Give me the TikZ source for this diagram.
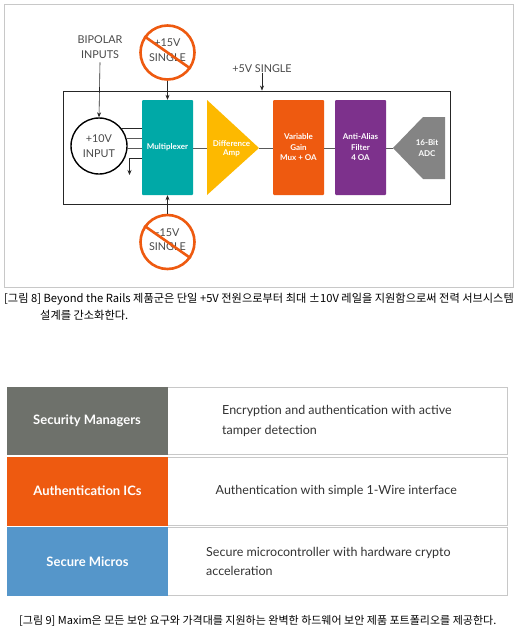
\documentclass[tikz,border=0pt]{standalone}
\usepackage{fontspec}
\usetikzlibrary{arrows.meta}
\setmainfont{Lato}
\newfontfamily\cjk{Noto Sans CJK KR}
\definecolor{frameg}{HTML}{C8C8C8}
\definecolor{teal1}{HTML}{00A9A7}
\definecolor{amber}{HTML}{FDB900}
\definecolor{orange1}{HTML}{EE5A10}
\definecolor{purple1}{HTML}{7D318C}
\definecolor{gray1}{HTML}{848484}
\definecolor{slate}{HTML}{6E716B}
\definecolor{blue1}{HTML}{5596CA}
\definecolor{txt}{HTML}{4A4A4A}
\tikzset{
 x=1pt,y=-1pt,
 blockbox/.style={draw=none,rounded corners=1pt,minimum width=51pt,minimum height=95pt,inner sep=0pt,align=center,text=white,font=\bfseries\fontsize{8}{10.5}\selectfont},
 lbl/.style={text=txt,align=center,inner sep=0pt,font=\fontsize{10.8}{14.5}\selectfont},
 wire/.style={draw=gray!70!black,line width=.5pt},
 darkwire/.style={draw=black!85,line width=.8pt},
 arr/.style={draw=black!85,line width=.6pt,-{Stealth[length=5pt,width=4pt]}},
 nocirc/.style={circle,draw=orange1,line width=2.6pt,minimum size=54pt,inner sep=0pt},
 cell/.style={draw=frameg,line width=.8pt,minimum height=67pt,inner sep=0pt},
 tlabel/.style={text=white,font=\bfseries\fontsize{13}{16}\selectfont,inner sep=0pt},
 ttext/.style={text=black!80,font=\fontsize{12.5}{19.5}\selectfont,align=left,inner sep=0pt,anchor=west},
 captxt/.style={font=\cjk\fontsize{11.2}{15}\selectfont,text=black,inner sep=0pt,anchor=west,align=left},
}
\begin{document}
\begin{tikzpicture}
\useasboundingbox (0,0) rectangle (520,637);
\fill[white] (0,0) rectangle (520,637);
\node[draw=frameg,line width=1pt,minimum width=509pt,minimum height=283pt,inner sep=0pt] (frame) at (259,145.5) {};
\node[draw=black!85,line width=.9pt,minimum width=387pt,minimum height=113pt,inner sep=0pt] (chip) at (256.5,147.5) {};

\node[blockbox,fill=teal1] (mux) at (167.5,147.5) {Multiplexer};
\node[blockbox,fill=orange1] (vga) at (298.5,147.5) {Variable\\Gain\\Mux + OA};
\node[blockbox,fill=purple1] (aaf) at (360.5,147.5) {Anti-Alias\\Filter\\4 OA};
\fill[amber] (207,100) -- (259,148) -- (207,195) -- cycle;
\node[text=white,font=\bfseries\fontsize{8}{9}\selectfont,align=center,inner sep=0pt] (amp) at (231.5,148.5) {Difference\\Amp};
\coordinate (amptip) at (259,148);
\coordinate (ampin) at (207,148);
\fill[gray1] (393,148) -- (423,117) -- (445,117) -- (445,179) -- (423,179) -- cycle;
\node[text=white,font=\bfseries\fontsize{8}{10.5}\selectfont,align=center,inner sep=0pt] (adc) at (427,148) {16-Bit\\ADC};
\coordinate (adctip) at (393,148);

\draw[wire] (mux.east |- ampin) -- (ampin);
\draw[wire] (amptip) -- (vga.west |- amptip);
\draw[wire] (vga.east |- amptip) -- (aaf.west |- amptip);
\draw[wire] (aaf.east |- amptip) -- (adctip);

\node[circle,draw=black,line width=1.4pt,minimum size=56pt,inner sep=0pt,lbl] (inp) at (99,146) {+10V\\INPUT};
\coordinate (m1) at (142,128.7);
\coordinate (m2) at (142,138.3);
\coordinate (m3) at (142,148.5);
\coordinate (m4) at (142,158.7);
\coordinate (m5) at (129.5,175);
\draw[darkwire] (121,128.7) -- (m1);
\draw[wire] (126,138.3) -- (m2);
\draw[wire] (127,148.5) -- (m3);
\draw[arr] (m4) -- (129.5,158.7) -- (m5);

\node[lbl] (bip) at (100,47) {BIPOLAR\\INPUTS};
\draw[arr] (bip.south) ++(0,4) -- (inp.north);

\node[nocirc] (np) at (167.5,52.5) {};
\node[lbl] at (167.5,50) {+15V\\SINGLE};
\draw[orange1,line width=2.6pt] (np.145) -- (np.-35);
\draw[arr] (np.south) -- (mux.north);

\node[nocirc] (nm) at (167.5,242) {};
\node[lbl] at (167.5,239.5) {-15V\\SINGLE};
\draw[orange1,line width=2.6pt] (nm.145) -- (nm.-35);
\draw[arr] (nm.north) -- (mux.south);

\node[lbl] (five) at (262,68.5) {+5V SINGLE};
\draw[arr] (five.south) -- (five.south |- chip.north);

\node[captxt] (c1) at (4,299) {[그림 8] Beyond the Rails 제품군은 단일 +5V 전원으로부터 최대 ±10V 레일을 지원함으로써 전력 서브시스템};
\node[captxt] (c2) at (40,315) {설계를 간소화한다.};

\node[cell,fill=white,minimum width=340pt] (r1) at (337,420.5) {};
\node[cell,fill=white,minimum width=340pt,minimum height=68pt] (r2) at (337,491) {};
\node[cell,fill=white,minimum width=340pt,minimum height=68pt] (r3) at (337,561.5) {};
\node[fill=slate,minimum width=161pt,minimum height=68pt,inner sep=0pt] (l1) at (87,420.5) {};
\node[fill=orange1,minimum width=161pt,minimum height=69pt,inner sep=0pt] (l2) at (87.5,491) {};
\node[fill=blue1,minimum width=161pt,minimum height=69pt,inner sep=0pt] (l3) at (87.5,561.5) {};
\node[tlabel] at (l1) {Security Managers};
\node[tlabel] at (l2) {Authentication ICs};
\node[tlabel] at (l3) {Secure Micros};
\node[ttext] at (222,421) {Encryption and authentication with active\\tamper detection};
\node[ttext] at (215.5,491) {Authentication with simple 1-Wire interface};
\node[ttext] at (206,561.5) {Secure microcontroller with hardware crypto\\acceleration};
\node[captxt,font=\cjk\fontsize{11}{15}\selectfont] (c3) at (19,621) {[그림 9] Maxim은 모든 보안 요구와 가격대를 지원하는 완벽한 하드웨어 보안 제품 포트폴리오를 제공한다.};
\end{tikzpicture}
\end{document}
